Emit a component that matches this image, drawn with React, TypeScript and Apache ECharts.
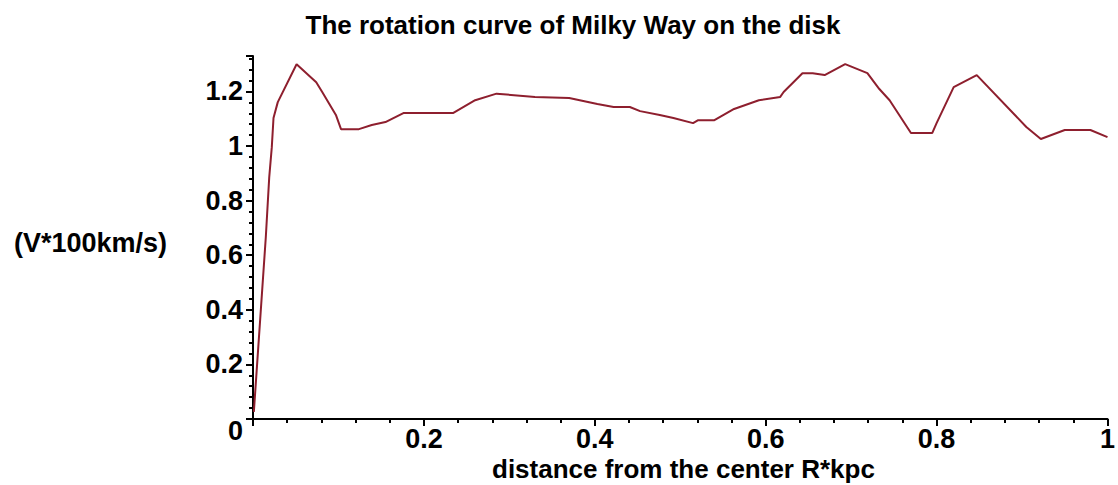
import React, { useEffect, useRef } from "react";
import * as echarts from "echarts";

const titleText = "The rotation curve of Milky Way on the disk";
const xAxisName = "distance from the center R*kpc";
const yAxisName = "(V*100km/s)";

const radius = [
  0.001, 0.015, 0.019, 0.022, 0.024, 0.029, 0.051, 0.074, 0.081, 0.097, 0.103, 0.124, 0.139, 0.155,
  0.176, 0.234, 0.26, 0.285, 0.33, 0.37, 0.403, 0.422, 0.441, 0.453, 0.476, 0.492, 0.515, 0.521,
  0.54, 0.563, 0.592, 0.617, 0.621, 0.643, 0.655, 0.669, 0.693, 0.719, 0.733, 0.745, 0.77, 0.795,
  0.8, 0.82, 0.847, 0.905, 0.922, 0.95, 0.98, 1.0,
];
const velocity = [
  0.026, 0.667, 0.886, 0.996, 1.103, 1.161, 1.3, 1.234, 1.198, 1.114, 1.062, 1.062, 1.077, 1.088,
  1.121, 1.121, 1.168, 1.192, 1.18, 1.176, 1.154, 1.143, 1.143, 1.128, 1.114, 1.103, 1.084, 1.095,
  1.095, 1.136, 1.168, 1.18, 1.198, 1.267, 1.267, 1.26, 1.3, 1.267, 1.209, 1.168, 1.048, 1.048,
  1.084, 1.216, 1.26, 1.07, 1.026, 1.059, 1.059, 1.033,
];

const FONT = '"Liberation Sans", Arial, sans-serif';

export default function App() {
  const ref = useRef<HTMLDivElement>(null);
  useEffect(() => {
    document.body.style.margin = "0";
    const chart = echarts.init(ref.current!, null, { renderer: "svg" });
    const data = radius.map((r, i) => [r, velocity[i]]);
    const labelFont = { fontFamily: FONT, fontWeight: "bold" as const, fontSize: 27, color: "#000" };
    chart.setOption({
      animation: false,
      backgroundColor: "#ffffff",
      title: {
        text: titleText,
        left: 568,
        textAlign: "center",
        top: 7,
        textStyle: { fontFamily: FONT, fontWeight: "bold", fontSize: 26, color: "#000" },
      },
      grid: { left: 253, right: 3, top: 56, bottom: 66, containLabel: false },
      xAxis: {
        type: "value",
        min: 0,
        max: 1,
        interval: 0.2,
        splitLine: { show: false },
        axisLine: { lineStyle: { color: "#000", width: 2 } },
        axisTick: { show: true, length: 7, lineStyle: { color: "#000", width: 2 } },
        minorTick: { show: true, splitNumber: 5, length: 4, lineStyle: { color: "#000", width: 2 } },
        axisLabel: { showMinLabel: false, margin: 6, ...labelFont },
      },
      yAxis: {
        type: "value",
        min: 0,
        max: 1.33,
        interval: 0.2,
        splitLine: { show: false },
        axisLine: { show: true, lineStyle: { color: "#000", width: 2 } },
        axisTick: { show: true, length: 7, lineStyle: { color: "#000", width: 2 } },
        minorTick: { show: true, splitNumber: 5, length: 4, lineStyle: { color: "#000", width: 2 } },
        axisLabel: {
          showMaxLabel: false,
          margin: 10,
          ...labelFont,
          formatter: (v: number) => (v === 0 ? "{low|0}" : String(Math.round(v * 10) / 10)),
          rich: {
            low: { ...labelFont, padding: [24, 0, 0, 0] },
          },
        },
      },
      graphic: [
        {
          type: "text",
          left: 492,
          top: 456,
          style: {
            text: xAxisName,
            fontFamily: FONT,
            fontWeight: "bold",
            fontSize: 26,
            fill: "#000",
          },
        },
        {
          type: "text",
          left: 14,
          top: 229,
          style: {
            text: yAxisName,
            fontFamily: FONT,
            fontWeight: "bold",
            fontSize: 27,
            fill: "#000",
          },
        },
      ],
      series: [
        {
          type: "line",
          data,
          showSymbol: false,
          symbol: "none",
          lineStyle: { color: "#8e1f2e", width: 2 },
        },
      ],
    });
    return () => chart.dispose();
  }, []);
  return <div ref={ref} style={{ width: 1118, height: 485 }} />;
}
